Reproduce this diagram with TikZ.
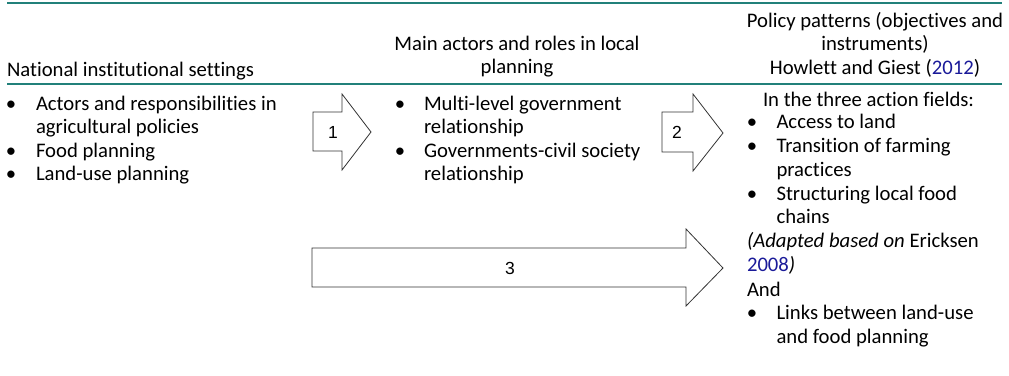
\documentclass[tikz,border=0pt]{standalone}
\usepackage{fontspec}
\setmainfont{Carlito}[Ligatures={NoCommon}]
\newfontfamily\arialfont{Liberation Sans}
\definecolor{rulecol}{HTML}{21807A}
\definecolor{citecol}{HTML}{1A1A99}
\definecolor{arrowcol}{HTML}{333333}
\begin{document}
\begin{tikzpicture}[x=1pt,y=-1pt,
  txt/.style={inner sep=0pt,outer sep=0pt,anchor=base west,font=\fontsize{20.7}{24}\selectfont},
  ctr/.style={txt,anchor=base},
  bul/.style={txt,anchor=base},
  rulel/.style={draw=rulecol,line width=2pt},
  bigarrow/.style={draw=arrowcol,line width=0.8pt,fill=white,line join=miter},
  num/.style={inner sep=0pt,outer sep=0pt,font=\arialfont\fontsize{17.5}{20}\selectfont}]
\useasboundingbox (0,0) rectangle (1009,375);
% rules
\coordinate (r1a) at (7,3);
\coordinate (r1b) at (1002,3);
\coordinate (r2a) at (7,83.5);
\coordinate (r2b) at (1002,83.5);
\draw[rulel] (r1a) -- (r1b);
\draw[rulel] (r2a) -- (r2b);
% headers
\node[txt] (h1) at (7,76) {National institutional settings};
\node[ctr] (h2a) at (517,50) {Main actors and roles in local};
\node[ctr] (h2b) at (517,73.5) {planning};
\node[ctr] (h3a) at (875,27) {Policy patterns (objectives and};
\node[ctr] (h3b) at (875,50.5) {instruments)};
\node[ctr] (h3c) at (875,74) {Howlett and Giest (\textcolor{citecol}{2012})};
% column 1
\node[bul] (b1a) at (11,110) {•};
\node[txt] (c1a) at (36,110) {Actors and responsibilities in};
\node[txt] (c1b) at (36,133.5) {agricultural policies};
\node[bul] (b1b) at (11,157.3) {•};
\node[txt] (c1c) at (36,157.3) {Food planning};
\node[bul] (b1c) at (11,180.7) {•};
\node[txt] (c1d) at (36,180.7) {Land-use planning};
% column 2
\node[bul] (b2a) at (400,110) {•};
\node[txt] (c2a) at (424,110) {Multi-level government};
\node[txt] (c2b) at (424,133.3) {relationship};
\node[bul] (b2b) at (400,157) {•};
\node[txt] (c2c) at (424,157) {Governments-civil society};
\node[txt] (c2d) at (424,180) {relationship};
% column 3
\node[txt] (c3a) at (763,106.7) {In the three action fields:};
\node[bul] (b3a) at (752,128.5) {•};
\node[txt] (c3b) at (776.5,128.5) {Access to land};
\node[bul] (b3b) at (752,152) {•};
\node[txt] (c3c) at (776.5,152) {Transition of farming};
\node[txt] (c3d) at (776.5,176) {practices};
\node[bul] (b3c) at (752,200) {•};
\node[txt] (c3e) at (776.5,200) {Structuring local food};
\node[txt] (c3f) at (776.5,223.5) {chains};
\node[txt] (c3g) at (747,247.5) {\textit{(Adapted based on} Ericksen};
\node[txt] (c3h) at (747,271.8) {\textcolor{citecol}{2008}\textit{)}};
\node[txt] (c3i) at (747,296) {And};
\node[bul] (b3d) at (752,319.7) {•};
\node[txt] (c3j) at (776.5,319.7) {Links between land-use};
\node[txt] (c3k) at (776.5,343.3) {and food planning};
% arrows
\draw[bigarrow] (313,112) -- (342,112) -- (342,94) -- (371,132) -- (342,170) -- (342,151) -- (313,151) -- cycle;
\node[num] (n1) at (333,132) {1};
\draw[bigarrow] (662,112) -- (693,112) -- (693,94) -- (723,133) -- (693,171) -- (693,152) -- (662,152) -- cycle;
\node[num] (n2) at (677,132.5) {2};
\draw[bigarrow] (312,248) -- (686,248) -- (686,229) -- (723,268) -- (686,306) -- (686,287) -- (312,287) -- cycle;
\node[num] (n3) at (510,268) {3};
\end{tikzpicture}
\end{document}
